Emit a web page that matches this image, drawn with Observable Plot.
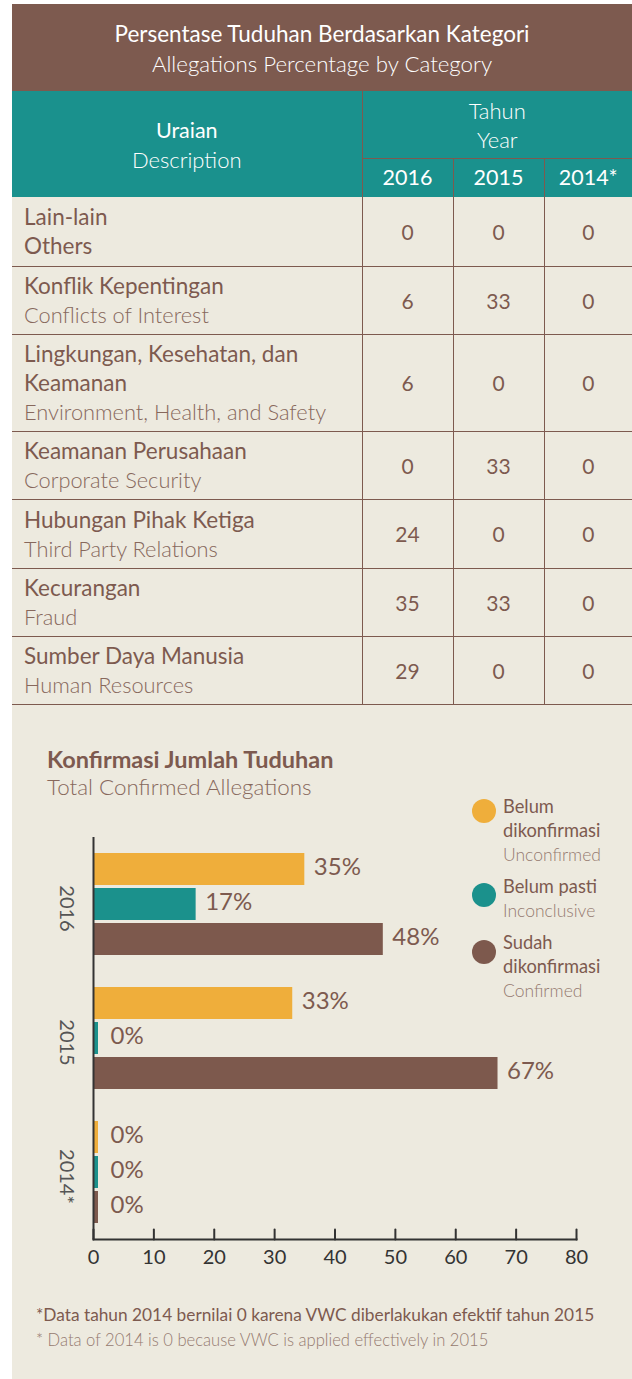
<!DOCTYPE html>
<html>
<head>
<meta charset="utf-8">
<script src="https://cdn.jsdelivr.net/npm/d3@7"></script>
<script src="https://cdn.jsdelivr.net/npm/@observablehq/plot@0.6"></script>
<style>
  html, body { margin: 0; padding: 0; background: #ffffff; }
  body { width: 632px; height: 1379px; overflow: hidden; font-family: Lato, "Open Sans", sans-serif; }
  #panel { position: absolute; left: 12px; top: 4px; width: 620px; height: 1375px; background: #edeadf; overflow: hidden; }
  #head { position: absolute; left: 0; top: 0; width: 620px; height: 87px; background: #7d5a4f; color: #fff; text-align: center; }
  #head .l1 { position: absolute; left: 0; right: 0; top: 15px; line-height: 30px; font-size: 22.5px; font-weight: 400; }
  #head .l2 { position: absolute; left: 0; right: 0; top: 45px; line-height: 30px; font-size: 22.3px; font-weight: 300; }
  table { position: absolute; left: 0; top: 87px; width: 620px; border-collapse: collapse; table-layout: fixed; }
  td { padding: 0; }
  .th { background: #1a918d; color: #fff; text-align: center; font-size: 21.5px; line-height: 29px; font-weight: 400; }
  .th .light, .th.light { font-weight: 300; font-size: 22px; }
  .bl { border-left: 1.5px solid #7d5a4f; }
  .bb { border-bottom: 1.5px solid #7d5a4f; }
  .cat { padding-left: 12px; color: #7d5a4f; font-size: 22.5px; line-height: 29px; vertical-align: middle; white-space: nowrap; }
  .cat .en { color: #87685c; font-weight: 300; font-size: 21.8px; }
  .num { text-align: center; color: #7d5a4f; font-size: 21px; vertical-align: middle; }
  #ctitle { position: absolute; left: 35px; top: 741px; line-height: 28px; font-size: 23.5px; font-weight: 700; color: #7d5a4f; }
  #csub { position: absolute; left: 35px; top: 769px; line-height: 28px; font-size: 22.4px; font-weight: 300; color: #87685c; }
  #chart { position: absolute; left: 0; top: 816px; }
  .leg { position: absolute; left: 491px; font-size: 18.3px; line-height: 24px; color: #7d5a4f; }
  .leg .en { color: #957a70; font-weight: 300; font-size: 17.5px; }
  .dot { position: absolute; left: 460px; width: 24px; height: 24px; border-radius: 50%; }
  #foot1 { position: absolute; left: 24px; top: 1299px; font-size: 17.3px; line-height: 24px; color: #7d5a4f; }
  #foot2 { position: absolute; left: 24px; top: 1324px; font-size: 16.6px; line-height: 24px; color: #957a70; font-weight: 300; }
</style>
</head>
<body>
<div id="panel">
  <div id="head">
    <div class="l1">Persentase Tuduhan Berdasarkan Kategori</div>
    <div class="l2">Allegations Percentage by Category</div>
  </div>
  <table id="tbl"></table>
  <div id="ctitle">Konfirmasi Jumlah Tuduhan</div>
  <div id="csub">Total Confirmed Allegations</div>
  <div id="chart"></div>
  <div id="legend"></div>
  <div id="foot1">*Data tahun 2014 bernilai 0 karena VWC diberlakukan efektif tahun 2015</div>
  <div id="foot2">* Data of 2014 is 0 because VWC is applied effectively in 2015</div>
</div>
<script>
// ---------- Table data ----------
const categoriesId = ["Lain-lain", "Konflik Kepentingan", "Lingkungan, Kesehatan, dan Keamanan", "Keamanan Perusahaan", "Hubungan Pihak Ketiga", "Kecurangan", "Sumber Daya Manusia"];
const categoriesEn = ["Others", "Conflicts of Interest", "Environment, Health, and Safety", "Corporate Security", "Third Party Relations", "Fraud", "Human Resources"];
const tableYears = ["2016", "2015", "2014*"];
const values2016 = [0, 6, 6, 0, 24, 35, 29];
const values2015 = [0, 33, 0, 33, 0, 33, 0];
const values2014 = [0, 0, 0, 0, 0, 0, 0];

// ---------- Chart data ----------
const years = ["2016", "2015", "2014*"];
const statuses = ["Unconfirmed", "Inconclusive", "Confirmed"];
const statusId = ["Belum dikonfirmasi", "Belum pasti", "Sudah dikonfirmasi"];
const unconfirmed = [35, 33, 0];
const inconclusive = [17, 0, 0];
const confirmed = [48, 67, 0];
const xTicks = [0, 10, 20, 30, 40, 50, 60, 70, 80];
const colors = ["#efae3b", "#1b918c", "#7d594d"];

// ---------- Build table ----------
const rowHeights = [69, 68, 97, 68, 69, 68, 68];
const tbl = document.getElementById("tbl");
let html = `<colgroup><col style="width:350px"><col style="width:91px"><col style="width:91px"><col style="width:88px"></colgroup>`;
html += `<tr style="height:67px"><td rowspan="2" class="th" style="vertical-align:middle;padding-top:2px">Uraian<br><span class="light">Description</span></td>` +
        `<td colspan="3" class="th light bl bb" style="padding-top:2px">Tahun<br>Year</td></tr>`;
html += `<tr style="height:39px">` + tableYears.map(y => `<td class="th bl">${y}</td>`).join("") + `</tr>`;
categoriesId.forEach((c, i) => {
  const idText = c === "Lingkungan, Kesehatan, dan Keamanan" ? "Lingkungan, Kesehatan, dan<br>Keamanan" : c;
  const enStyle = i === 0 ? ' style="font-weight:400;color:#7d5a4f;font-size:22.5px"' : "";
  html += `<tr style="height:${rowHeights[i]}px"><td class="cat bb">${idText}<br><span class="en"${enStyle}>${categoriesEn[i]}</span></td>` +
    [values2016[i], values2015[i], values2014[i]].map(v => `<td class="num bl bb">${v}</td>`).join("") + `</tr>`;
});
tbl.innerHTML = html;

// ---------- Legend ----------
const legend = document.getElementById("legend");
const legTops = [790, 870, 926];
const dotTops = [795, 879, 936];
legend.innerHTML = statuses.map((s, i) => {
  const idHtml = statusId[i] === "Belum pasti" ? "Belum pasti" : statusId[i].replace(" ", "<br>");
  return `<div class="dot" style="top:${dotTops[i]}px;background:${colors[i]}"></div>` +
         `<div class="leg" style="top:${legTops[i]}px">${idHtml}<br><span class="en">${s}</span></div>`;
}).join("");

// ---------- Chart ----------
const data = years.flatMap((y, i) => [
  {year: y, status: statuses[0], value: unconfirmed[i]},
  {year: y, status: statuses[1], value: inconclusive[i]},
  {year: y, status: statuses[2], value: confirmed[i]}
]);
const tickShape = { draw(context, l) { context.moveTo(0, 0); context.lineTo(0, -l); } };

const chart = Plot.plot({
  width: 620,
  height: 470,
  marginLeft: 81,
  marginRight: 56,
  marginTop: 16,
  marginBottom: 50,
  style: { background: "transparent", fontFamily: "Lato, 'Open Sans', sans-serif", overflow: "visible" },
  x: { domain: [0, 80], axis: null, label: null },
  y: { domain: statuses, axis: null, paddingInner: 0.075, paddingOuter: 0.42 },
  fy: { domain: years, axis: null, padding: 0 },
  color: { domain: statuses, range: colors },
  marks: [
    Plot.barX(data.filter(d => d.value > 0), { x: "value", y: "status", fy: "year", fill: "status" }),
    Plot.barX(data.filter(d => d.value === 0), { x: "value", y: "status", fy: "year", fill: "status", insetRight: -5 }),
    Plot.text(data.filter(d => d.value > 0), { x: "value", y: "status", fy: "year", text: d => d.value + "%", textAnchor: "start", dx: 9, dy: -2, fontSize: 24, fill: "#7d5a4f" }),
    Plot.text(data.filter(d => d.value === 0), { x: "value", y: "status", fy: "year", text: d => d.value + "%", textAnchor: "start", dx: 17, dy: -2, fontSize: 24, fill: "#7d5a4f" }),
    Plot.text(years, { fy: d => d, text: d => d, frameAnchor: "left", textAnchor: "middle", rotate: 90, dx: -27, dy: 4, fontSize: 20, fill: "#555" }),
    Plot.ruleX([0], { stroke: "#333", strokeWidth: 2 }),
    Plot.frame({ anchor: "bottom", facetAnchor: "bottom", stroke: "#333", strokeWidth: 2 }),
    Plot.vector(xTicks, { x: d => d, frameAnchor: "bottom", facetAnchor: "bottom", length: 10, anchor: "start", shape: tickShape, stroke: "#333", strokeWidth: 2 }),
    Plot.axisX({ ticks: xTicks, tickSize: 0, tickPadding: 10, fontSize: 20, fill: "#333", label: null, tickFormat: d => String(d) })
  ]
});
document.getElementById("chart").appendChild(chart);
</script>
</body>
</html>
